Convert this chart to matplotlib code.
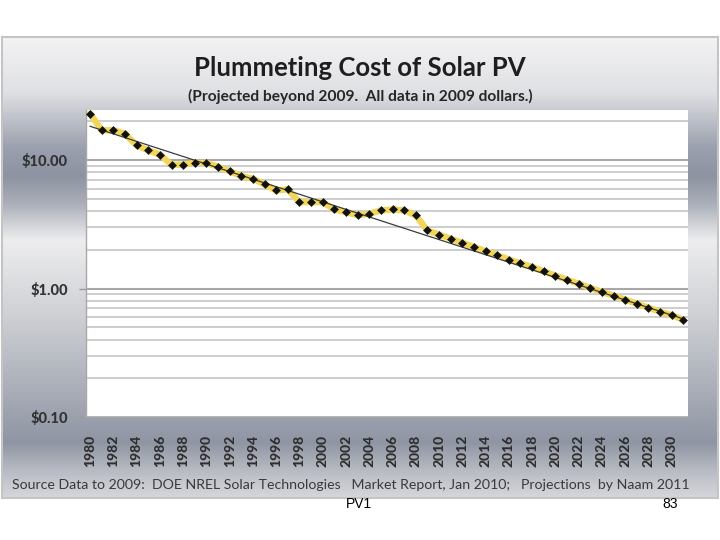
import numpy as np
import matplotlib
matplotlib.use("Agg")
import matplotlib.pyplot as plt
from matplotlib.colors import to_rgb

# ---------------- data ----------------
years = list(range(1980, 2032))
costs = [23.0, 17.0, 17.1, 16.0, 13.0, 11.9, 11.0, 9.2, 9.2, 9.5,
         9.5, 8.85, 8.2, 7.5, 7.15, 6.45, 5.8, 5.9, 4.7, 4.7,
         4.7, 4.12, 3.93, 3.72, 3.81, 4.05, 4.12, 4.05, 3.70, 2.83,
         2.63, 2.44, 2.27, 2.11, 1.95, 1.82, 1.68, 1.57, 1.47, 1.36,
         1.26, 1.17, 1.09, 1.01, 0.94, 0.88, 0.82, 0.76, 0.71, 0.66,
         0.62, 0.57]
trend_years = [1980, 2031]
trend_values = [18.3, 0.58]
ytick_values = [0.1, 1.0, 10.0]
ytick_labels = ["$0.10", "$1.00", "$10.00"]
minor_grid = [0.2, 0.3, 0.4, 0.5, 0.6, 0.7, 0.8, 0.9,
              2, 3, 4, 5, 6, 7, 8, 9, 20]
xtick_years = list(range(1980, 2031, 2))

title = "Plummeting Cost of Solar PV"
subtitle = "(Projected beyond 2009.  All data in 2009 dollars.)"
source = "Source Data to 2009:  DOE NREL Solar Technologies   Market Report, Jan 2010;   Projections  by Naam 2011"

W, H = 720, 540
fig = plt.figure(figsize=(7.2, 5.4), dpi=100)
fig.patch.set_facecolor("white")

def fx(px):
    return px / W

def fy(py):
    return 1 - py / H

# ---------------- gradient panel ----------------
px0, py0, px1, py1 = 2, 37, 718, 498
bg = fig.add_axes([fx(px0), fy(py1), fx(px1 - px0), (py1 - py0) / H])
bg.set_zorder(-5)
stops = [0.0, 0.12, 0.24, 0.30, 0.36, 0.44, 0.60, 0.78, 0.88, 0.94, 1.0]
cols = ["#f3f3f4", "#dfe0e3", "#9aa0ad", "#8d93a1", "#a9aeb8", "#ededee",
        "#cfd1d5", "#a6abb5", "#8f95a3", "#b7bac2", "#d6d7db"]
t = np.linspace(0, 1, 400)
rgb = np.array([to_rgb(c) for c in cols])
grad = np.stack([np.interp(t, stops, rgb[:, k]) for k in range(3)], axis=1)
img = np.repeat(grad[:, None, :], 2, axis=1)
bg.imshow(img, aspect="auto", extent=[0, 1, 0, 1], origin="upper")
bg.set_xlim(0, 1)
bg.set_ylim(0, 1)
bg.set_xticks([])
bg.set_yticks([])
for s in bg.spines.values():
    s.set_color("#c4c4c6")
    s.set_linewidth(1.5)

# ---------------- plot area ----------------
ax = fig.add_axes([fx(86), fy(417), fx(688 - 86), (417 - 110) / H])
ax.set_facecolor("white")
ax.set_yscale("log")
ax.set_ylim(0.1, 24.5)
ax.set_xlim(1979.65, 2031.4)

for v in minor_grid:
    ax.axhline(v, color="#c9c9c9", lw=1.3, zorder=1)
for v in ytick_values[1:]:
    ax.axhline(v, color="#a8a8a8", lw=1.5, zorder=1)

ax.plot(years, costs, color="#f1d65a", lw=4.6, solid_joinstyle="round",
        solid_capstyle="round", zorder=3)
ax.plot(trend_years, trend_values, color="#3c3c3c", lw=0.9, zorder=4)
ax.plot(years, costs, linestyle="none", marker="D", markersize=4.0,
        color="#111111", markeredgewidth=0.4, zorder=5)

ax.set_yticks(ytick_values)
ax.set_yticklabels(ytick_labels)
ax.yaxis.set_minor_locator(matplotlib.ticker.NullLocator())
ax.tick_params(axis="y", which="major", length=5, width=1, color="#9a9a9a",
               pad=8, labelsize=10.5, labelcolor="#333333")
for lab in ax.get_yticklabels():
    lab.set_fontfamily("Lato")
    lab.set_fontweight("black")

ax.set_xticks(xtick_years)
ax.set_xticklabels([str(y) for y in xtick_years], rotation=90)
ax.tick_params(axis="x", length=0, pad=13, labelsize=10, labelcolor="#2e2e2e")
for lab in ax.get_xticklabels():
    lab.set_fontfamily("Lato")
    lab.set_fontweight("black")
    lab.set_verticalalignment("top")

for side in ["top", "right"]:
    ax.spines[side].set_visible(False)
ax.spines["left"].set_color("#a8a8a8")
ax.spines["bottom"].set_color("#a8a8a8")
ax.spines["left"].set_linewidth(1.0)
ax.spines["bottom"].set_linewidth(1.2)

# ---------------- texts ----------------
fig.text(0.5, fy(68), title, ha="center", va="center", fontsize=18.5,
         fontweight="bold", family="Lato", color="#1e1e1e")
fig.text(0.5, fy(96), subtitle, ha="center", va="center", fontsize=11.2,
         fontweight="bold", family="Lato", color="#262626")
fig.text(fx(12), fy(485), source, ha="left", va="center", fontsize=10.2,
         family="Lato", color="#3a3a3a")
fig.text(fx(359), fy(504), "PV1", ha="center", va="center", fontsize=10,
         family="Liberation Sans", color="black")
fig.text(fx(670), fy(504), "83", ha="center", va="center", fontsize=10,
         family="Liberation Sans", color="black")

fig.savefig("out.png", dpi=100)
